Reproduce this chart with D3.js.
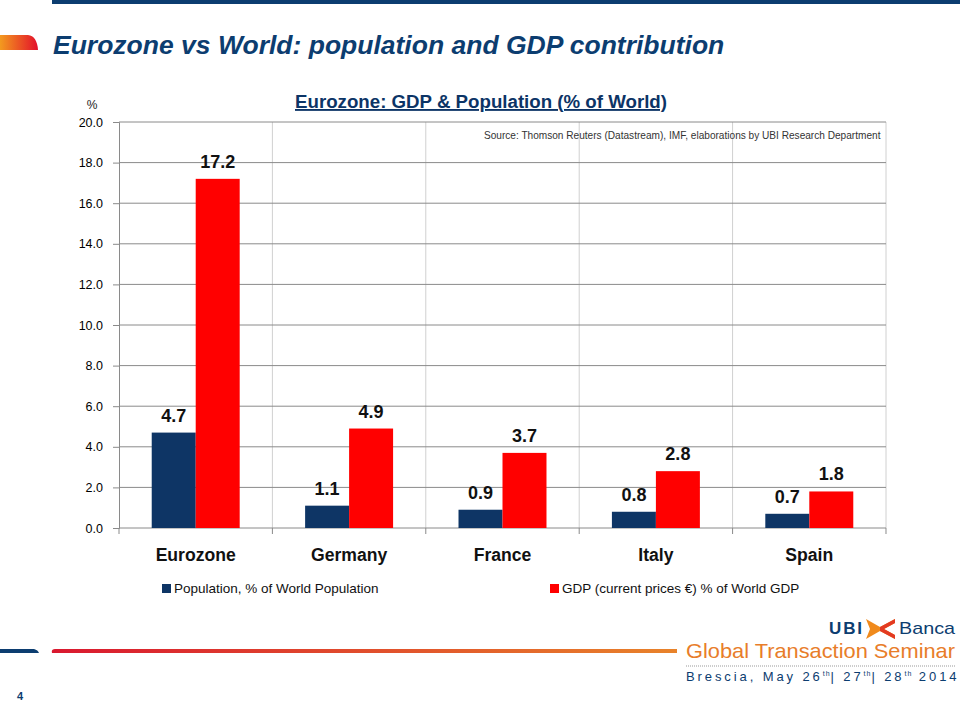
<!DOCTYPE html>
<html><head><meta charset="utf-8">
<script src="https://cdn.jsdelivr.net/npm/d3@7"></script>
<style>body{margin:0;background:#fff}svg{display:block;font-family:"Liberation Sans",Arial,sans-serif}</style>
</head><body>
<svg id="c" width="960" height="702"></svg>
<script>
const categories = ["Eurozone","Germany","France","Italy","Spain"];
const population = [4.7,1.1,0.9,0.8,0.7];
const gdp = [17.2,4.9,3.7,2.8,1.8];
const seriesNames = ["Population, % of World Population","GDP (current prices €) % of World GDP"];
const yTicks = [0,2,4,6,8,10,12,14,16,18,20];

const navy = "#0e3565", red = "#ff0000";
const svg = d3.select("#c");
const defs = svg.append("defs");
const g1 = defs.append("linearGradient").attr("id","gr1");
g1.append("stop").attr("offset","0").attr("stop-color","#f39a1f");
g1.append("stop").attr("offset","1").attr("stop-color","#e3102a");
const g2 = defs.append("linearGradient").attr("id","gr2");
g2.append("stop").attr("offset","0").attr("stop-color","#d9182f");
g2.append("stop").attr("offset","1").attr("stop-color","#e8832a");

// header
svg.append("rect").attr("x",52).attr("y",0).attr("width",908).attr("height",4).attr("fill","#0c3d70");
svg.append("path").attr("d","M0,35 L28,35 Q37,36 38,50 L0,50 Z").attr("fill","url(#gr1)");
svg.append("text").attr("x",53).attr("y",54).attr("font-size",26.5).attr("font-weight","bold")
  .attr("font-style","italic").attr("fill","#0c3d70").text("Eurozone vs World: population and GDP contribution");

// chart
const L=119,R=886,T=122,B=528;
const x0 = d3.scaleBand().domain(categories).range([L,R]).paddingInner(0.4265).paddingOuter(0.2133);
const x1 = d3.scaleBand().domain([0,1]).range([0,x0.bandwidth()]);
const y = d3.scaleLinear().domain([0,20]).range([B,T]);
const step = x0.step();
const bounds = d3.range(categories.length+1).map(i=>L+i*step);

// vertical gridlines
svg.append("g").selectAll("line").data(bounds.slice(1,-1)).join("line")
  .attr("x1",d=>d).attr("x2",d=>d).attr("y1",T).attr("y2",B).attr("stroke","#d0d0d0");
svg.append("line").attr("x1",R).attr("x2",R).attr("y1",T).attr("y2",B).attr("stroke","#d0d0d0");
// horizontal gridlines
svg.append("g").selectAll("line").data(yTicks).join("line")
  .attr("x1",L).attr("x2",R).attr("y1",d=>y(d)).attr("y2",d=>y(d)).attr("stroke","#8a8a8a");

// y axis
const ya = svg.append("g").attr("transform",`translate(${L},0)`)
  .call(d3.axisLeft(y).tickValues(yTicks).tickFormat(d3.format(".1f")).tickSize(6).tickPadding(10));
ya.select(".domain").attr("stroke","#8a8a8a");
ya.selectAll(".tick line").attr("stroke","#8a8a8a");
ya.selectAll("text").attr("font-size",12.5).attr("fill","#000").attr("font-family","Liberation Sans, Arial");
// x axis ticks
svg.append("g").selectAll("line").data(bounds).join("line")
  .attr("x1",d=>d).attr("x2",d=>d).attr("y1",B).attr("y2",B+6).attr("stroke","#8a8a8a");

// bars
const data = categories.map((c,i)=>({c,vals:[population[i],gdp[i]]}));
const grp = svg.append("g").selectAll("g").data(data).join("g").attr("transform",d=>`translate(${x0(d.c)},0)`);
grp.selectAll("rect").data(d=>d.vals.map((v,k)=>({v,k}))).join("rect")
  .attr("x",d=>x1(d.k)).attr("width",x1.bandwidth()).attr("y",d=>y(d.v)).attr("height",d=>B-y(d.v))
  .attr("fill",d=>d.k===0?navy:red);
grp.selectAll("text").data(d=>d.vals.map((v,k)=>({v,k}))).join("text")
  .attr("x",d=>x1(d.k)+x1.bandwidth()/2).attr("y",d=>y(d.v)-11)
  .attr("text-anchor","middle").attr("font-size",18).attr("font-weight","bold").attr("fill","#111")
  .text(d=>d3.format(".1f")(d.v));

// category labels
svg.append("g").selectAll("text").data(categories).join("text")
  .attr("x",d=>x0(d)+x0.bandwidth()/2).attr("y",561).attr("text-anchor","middle")
  .attr("font-size",17.6).attr("font-weight","bold").attr("fill","#111").text(d=>d);

// titles
svg.append("text").attr("x",481).attr("y",108).attr("text-anchor","middle").attr("font-size",18.7)
  .attr("font-weight","bold").attr("fill","#0c3466").attr("text-decoration","underline")
  .text("Eurozone: GDP & Population (% of World)");
svg.append("text").attr("x",92).attr("y",109).attr("text-anchor","middle").attr("font-size",12).attr("fill","#222").text("%");
svg.append("text").attr("x",484).attr("y",139).attr("font-size",10.1).attr("fill","#333")
  .text("Source: Thomson Reuters (Datastream), IMF, elaborations by UBI Research Department");

// legend
const legX=[162,550];
seriesNames.forEach((n,i)=>{
  svg.append("rect").attr("x",legX[i]).attr("y",584).attr("width",9).attr("height",9).attr("fill",i===0?navy:red);
  svg.append("text").attr("x",legX[i]+12).attr("y",593).attr("font-size",13.5).attr("fill","#111").text(n);
});

// footer
svg.append("path").attr("d","M0,649 L34,649 Q38,650 39,653 L0,653 Z").attr("fill","#0c3d70");
svg.append("path").attr("d","M52,653 Q51,649 55,649 L677,649 L677,653 Z").attr("fill","url(#gr2)");
svg.append("text").attr("x",829).attr("y",634).attr("font-size",17).attr("font-weight","bold").attr("fill","#0c3d70").attr("textLength",33).text("UBI");
svg.append("path").attr("d","M866,619 L880,627 L895,619 L895,623 L884,629 L895,635 L895,639 L880,631 L866,639 L870,629 Z").attr("fill","#f08a1c");
svg.append("path").attr("d","M880,627 L895,619 L895,623 L884,629 L895,635 L895,639 L880,631 Z").attr("fill","#e33a22");
svg.append("text").attr("x",899).attr("y",634).attr("font-size",17).attr("fill","#0c3d70").attr("textLength",56).attr("lengthAdjust","spacingAndGlyphs").text("Banca");
svg.append("text").attr("x",686).attr("y",658).attr("font-size",21).attr("fill","#e87d2a").attr("textLength",269).attr("lengthAdjust","spacingAndGlyphs").text("Global Transaction Seminar");
svg.append("line").attr("x1",686).attr("x2",955).attr("y1",666).attr("y2",666).attr("stroke","#999").attr("stroke-dasharray","1,1");
const br = svg.append("text").attr("x",686).attr("y",681).attr("font-size",13).attr("fill","#0c3d70").attr("letter-spacing",2.9);
br.append("tspan").text("Brescia, May 26");
br.append("tspan").attr("font-size",7).attr("dy",-5).attr("letter-spacing",1).text("th");
br.append("tspan").attr("dy",5).text("| 27");
br.append("tspan").attr("font-size",7).attr("dy",-5).attr("letter-spacing",1).text("th");
br.append("tspan").attr("dy",5).text("| 28");
br.append("tspan").attr("font-size",7).attr("dy",-5).attr("letter-spacing",1).text("th");
br.append("tspan").attr("dy",5).text(" 2014");
svg.append("text").attr("x",17).attr("y",700).attr("font-size",11).attr("font-weight","bold").attr("fill","#0c3d70").text("4");
</script>
</body></html>
